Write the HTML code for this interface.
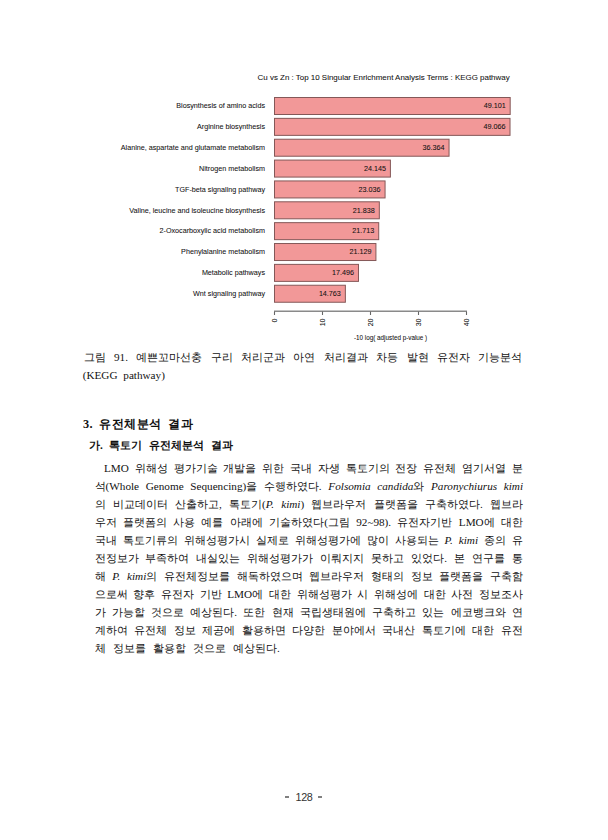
<!DOCTYPE html>
<html><head><meta charset="utf-8"><style>
html,body{margin:0;padding:0;background:#fff}
body{width:608px;height:840px;position:relative;overflow:hidden}
svg{position:absolute;left:0;top:0}
svg text{font-family:"Liberation Sans",sans-serif;fill:#111;stroke:#111;stroke-width:0.06px}
.lb{font-size:7.2px}
.vl{font-size:7.2px}
.tk{font-size:7px}
.ax{font-size:6.3px}
.tt{font-size:7.95px}
.t{position:absolute;font-family:"Liberation Serif",serif;font-size:11.2px;line-height:0;height:0;white-space:nowrap;color:#111;word-spacing:3px}
.j{text-align:justify;text-align-last:justify;white-space:normal;word-spacing:0}
.h1{font-size:12.25px;font-weight:bold;letter-spacing:0.45px}
.h2{font-weight:bold;word-spacing:4px}
.pn{position:absolute;font-family:"Liberation Sans",sans-serif;font-size:10.8px;line-height:0;color:#333;letter-spacing:-0.45px}
.hy{position:absolute;top:796.2px;width:4px;height:1.5px;background:#808080}
</style></head><body>
<svg width="608" height="840" viewBox="0 0 608 840">
<rect x="274.5" y="97.50" width="235.68" height="17" fill="#f29898" stroke="#845858" stroke-width="1"/>
<text x="265" y="108.20" text-anchor="end" class="lb">Biosynthesis of amino acids</text>
<text x="505.68" y="108.20" text-anchor="end" class="vl">49.101</text>
<rect x="274.5" y="118.36" width="235.52" height="17" fill="#f29898" stroke="#845858" stroke-width="1"/>
<text x="265" y="129.06" text-anchor="end" class="lb">Arginine biosynthesis</text>
<text x="505.52" y="129.06" text-anchor="end" class="vl">49.066</text>
<rect x="274.5" y="139.22" width="174.55" height="17" fill="#f29898" stroke="#845858" stroke-width="1"/>
<text x="265" y="149.92" text-anchor="end" class="lb">Alanine, aspartate and glutamate metabolism</text>
<text x="444.55" y="149.92" text-anchor="end" class="vl">36.364</text>
<rect x="274.5" y="160.08" width="115.90" height="17" fill="#f29898" stroke="#845858" stroke-width="1"/>
<text x="265" y="170.78" text-anchor="end" class="lb">Nitrogen metabolism</text>
<text x="385.90" y="170.78" text-anchor="end" class="vl">24.145</text>
<rect x="274.5" y="180.94" width="110.57" height="17" fill="#f29898" stroke="#845858" stroke-width="1"/>
<text x="265" y="191.64" text-anchor="end" class="lb">TGF-beta signaling pathway</text>
<text x="380.57" y="191.64" text-anchor="end" class="vl">23.036</text>
<rect x="274.5" y="201.80" width="104.82" height="17" fill="#f29898" stroke="#845858" stroke-width="1"/>
<text x="265" y="212.50" text-anchor="end" class="lb">Valine, leucine and isoleucine biosynthesis</text>
<text x="374.82" y="212.50" text-anchor="end" class="vl">21.838</text>
<rect x="274.5" y="222.66" width="104.22" height="17" fill="#f29898" stroke="#845858" stroke-width="1"/>
<text x="265" y="233.36" text-anchor="end" class="lb">2-Oxocarboxylic acid metabolism</text>
<text x="374.22" y="233.36" text-anchor="end" class="vl">21.713</text>
<rect x="274.5" y="243.52" width="101.42" height="17" fill="#f29898" stroke="#845858" stroke-width="1"/>
<text x="265" y="254.22" text-anchor="end" class="lb">Phenylalanine metabolism</text>
<text x="371.42" y="254.22" text-anchor="end" class="vl">21.129</text>
<rect x="274.5" y="264.38" width="83.98" height="17" fill="#f29898" stroke="#845858" stroke-width="1"/>
<text x="265" y="275.08" text-anchor="end" class="lb">Metabolic pathways</text>
<text x="353.98" y="275.08" text-anchor="end" class="vl">17.496</text>
<rect x="274.5" y="285.24" width="70.86" height="17" fill="#f29898" stroke="#845858" stroke-width="1"/>
<text x="265" y="295.94" text-anchor="end" class="lb">Wnt signaling pathway</text>
<text x="340.86" y="295.94" text-anchor="end" class="vl">14.763</text>
<line x1="274.0" y1="311.2" x2="467.0" y2="311.2" stroke="#8a8a8a" stroke-width="1.6"/>
<line x1="274.50" y1="311.5" x2="274.50" y2="315" stroke="#666" stroke-width="1.1"/>
<text transform="translate(276.90,318.5) rotate(-90)" text-anchor="end" class="tk">0</text>
<line x1="322.50" y1="311.5" x2="322.50" y2="315" stroke="#666" stroke-width="1.1"/>
<text transform="translate(324.90,318.5) rotate(-90)" text-anchor="end" class="tk">10</text>
<line x1="370.50" y1="311.5" x2="370.50" y2="315" stroke="#666" stroke-width="1.1"/>
<text transform="translate(372.90,318.5) rotate(-90)" text-anchor="end" class="tk">20</text>
<line x1="418.50" y1="311.5" x2="418.50" y2="315" stroke="#666" stroke-width="1.1"/>
<text transform="translate(420.90,318.5) rotate(-90)" text-anchor="end" class="tk">30</text>
<line x1="466.50" y1="311.5" x2="466.50" y2="315" stroke="#666" stroke-width="1.1"/>
<text transform="translate(468.90,318.5) rotate(-90)" text-anchor="end" class="tk">40</text>
<text x="390.6" y="339.5" text-anchor="middle" class="ax">-10 log( adjusted p-value )</text>
<text x="257.6" y="79.5" class="tt">Cu vs Zn : Top 10 Singular Enrichment Analysis Terms : KEGG pathway</text>
</svg>
<div class="t j" style="left:83.6px;top:357.22px;width:438.80px">그림 91. 예쁜꼬마선충 구리 처리군과 아연 처리결과 차등 발현 유전자 기능분석</div>
<div class="t" style="left:82.7px;top:375.12px;width:440.30px">(KEGG pathway)</div>
<div class="t h1" style="left:82.9px;top:423.57px;width:440.10px">3. 유전체분석 결과</div>
<div class="t h2" style="left:88.9px;top:445.32px;width:434.10px">가. 톡토기 유전체분석 결과</div>
<div class="t j" style="left:104px;top:467.82px;width:419.00px">LMO 위해성 평가기술 개발을 위한 국내 자생 톡토기의 전장 유전체 염기서열 분</div>
<div class="t j" style="left:94.5px;top:485.87px;width:428.50px">석(Whole Genome Sequencing)을 수행하였다. <i>Folsomia candida</i>와 <i>Paronychiurus kimi</i></div>
<div class="t j" style="left:94.5px;top:503.92px;width:428.50px">의 비교데이터 산출하고, 톡토기(<i>P. kimi</i>) 웹브라우저 플랫폼을 구축하였다. 웹브라</div>
<div class="t j" style="left:94.5px;top:521.97px;width:428.50px">우저 플랫폼의 사용 예를 아래에 기술하였다(그림 92~98). 유전자기반 LMO에 대한</div>
<div class="t j" style="left:94.5px;top:540.02px;width:428.50px">국내 톡토기류의 위해성평가시 실제로 위해성평가에 많이 사용되는 <i>P. kimi</i> 종의 유</div>
<div class="t j" style="left:94.5px;top:558.07px;width:428.50px">전정보가 부족하여 내실있는 위해성평가가 이뤄지지 못하고 있었다. 본 연구를 통</div>
<div class="t j" style="left:94.5px;top:576.12px;width:428.50px">해 <i>P. kimi</i>의 유전체정보를 해독하였으며 웹브라우저 형태의 정보 플랫폼을 구축함</div>
<div class="t j" style="left:94.5px;top:594.17px;width:428.50px">으로써 향후 유전자 기반 LMO에 대한 위해성평가 시 위해성에 대한 사전 정보조사</div>
<div class="t j" style="left:94.5px;top:612.22px;width:428.50px">가 가능할 것으로 예상된다. 또한 현재 국립생태원에 구축하고 있는 에코뱅크와 연</div>
<div class="t j" style="left:94.5px;top:630.27px;width:428.50px">계하여 유전체 정보 제공에 활용하면 다양한 분야에서 국내산 톡토기에 대한 유전</div>
<div class="t" style="left:94.5px;top:648.32px;width:428.50px"><span style="word-spacing:4.3px">체 정보를 활용할 것으로 예상된다.</span></div>
<div class="hy" style="left:285.2px"></div>
<div class="pn" style="left:295.6px;top:797.06px">128</div>
<div class="hy" style="left:317.9px"></div>
</body></html>
